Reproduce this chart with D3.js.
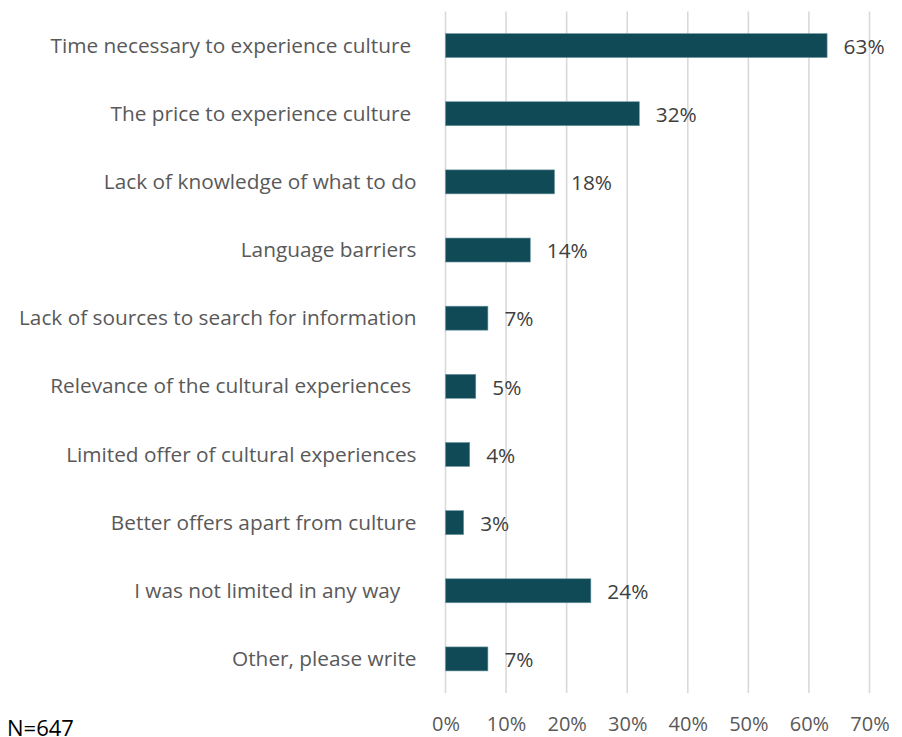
<!DOCTYPE html>
<html>
<head>
<meta charset="utf-8">
<script src="https://cdn.jsdelivr.net/npm/d3@7"></script>
<style>
  html, body { margin: 0; padding: 0; background: #ffffff; }
  svg { display: block; }
  text { font-family: "Open Sans", "Noto Sans", sans-serif; white-space: pre; }
</style>
</head>
<body>
<svg id="chart" width="902" height="737"></svg>
<script>
// Barriers to experiencing culture (share of respondents)
const categories = [
  "Time necessary to experience culture ",
  "The price to experience culture ",
  "Lack of knowledge of what to do",
  "Language barriers",
  "Lack of sources to search for information",
  "Relevance of the cultural experiences ",
  "Limited offer of cultural experiences",
  "Better offers apart from culture",
  "I was not limited in any way   ",
  "Other, please write"
];
const values = [63, 32, 18, 14, 7, 5, 4, 3, 24, 7];
const tickValues = [0, 10, 20, 30, 40, 50, 60, 70];
const sampleNote = "N=647";

const svg = d3.select("#chart");
const plot = { left: 445.5, right: 869.5, top: 11.5, bottom: 693 };

const x = d3.scaleLinear().domain([0, 70]).range([plot.left, plot.right]);
const y = d3.scaleBand()
  .domain(categories)
  .range([plot.top, plot.bottom])
  .paddingInner(0.648)
  .paddingOuter(0.324);

// vertical gridlines
svg.append("g")
  .selectAll("line")
  .data(tickValues)
  .join("line")
  .attr("x1", d => x(d)).attr("x2", d => x(d))
  .attr("y1", plot.top).attr("y2", plot.bottom)
  .attr("stroke", "#d9d9d9")
  .attr("stroke-width", 1.6);

// x axis tick labels
const xAxis = d3.axisBottom(x)
  .tickValues(tickValues)
  .tickFormat(d => d + "%")
  .tickSize(0)
  .tickPadding(0);
const gx = svg.append("g")
  .attr("transform", `translate(0,${plot.bottom})`)
  .call(xAxis);
gx.select(".domain").remove();
gx.selectAll("text")
  .attr("y", 38)
  .attr("dy", null)
  .attr("font-size", 20)
  .attr("font-family", "\"Open Sans\", sans-serif")
  .attr("fill", "#595959");

// category labels
const yAxis = d3.axisLeft(y).tickSize(0).tickPadding(0);
const gy = svg.append("g")
  .attr("transform", `translate(416.5,0)`)
  .call(yAxis);
gy.select(".domain").remove();
gy.selectAll("text")
  .attr("x", 0)
  .attr("dy", "0.34em")
  .attr("font-size", 20.8)
  .attr("font-family", "\"Open Sans\", sans-serif")
  .attr("fill", "#595959")
  .style("white-space", "pre");

// bars
svg.append("g")
  .selectAll("rect")
  .data(values)
  .join("rect")
  .attr("x", x(0))
  .attr("y", (d, i) => y(categories[i]))
  .attr("width", d => x(d) - x(0))
  .attr("height", y.bandwidth())
  .attr("fill", "#114a57")
  .attr("stroke", "#6d99a3")
  .attr("stroke-width", 0.6);

// value labels
svg.append("g")
  .selectAll("text")
  .data(values)
  .join("text")
  .attr("x", d => x(d) + 16.5)
  .attr("y", (d, i) => y(categories[i]) + y.bandwidth() / 2)
  .attr("dy", "0.4em")
  .attr("font-size", 20.8)
  .attr("fill", "#404040")
  .text(d => d + "%");

// sample size note
svg.append("text")
  .attr("x", 7)
  .attr("y", 735.5)
  .attr("font-size", 22)
  .attr("fill", "#000000")
  .text(sampleNote);
</script>
</body>
</html>
